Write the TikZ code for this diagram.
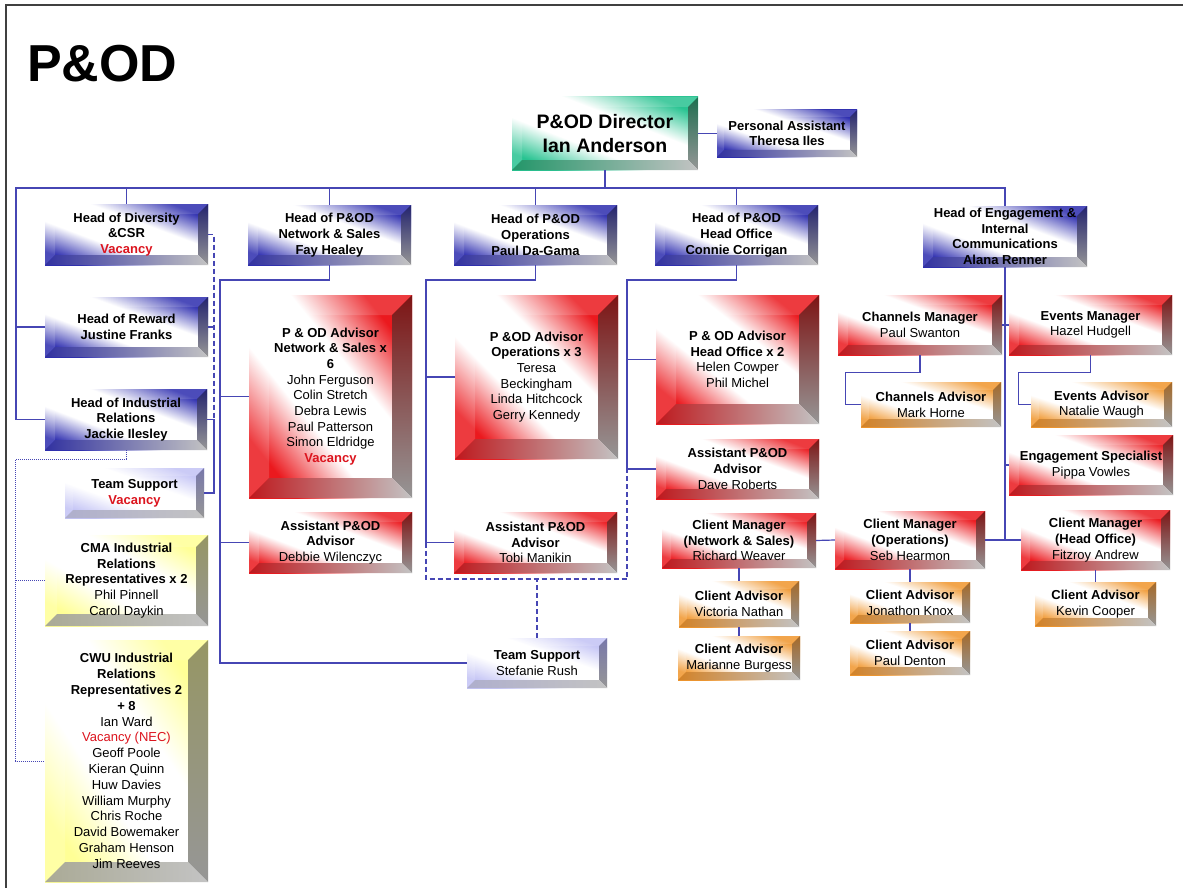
\documentclass[tikz,border=0pt]{standalone}
\usepackage{fontspec}
\setmainfont{Liberation Sans}
\usetikzlibrary{calc}
\definecolor{blueF}{RGB}{45,45,175}
\definecolor{bluedk}{RGB}{35,35,110}
\definecolor{bluebb}{RGB}{50,50,160}
\definecolor{redF}{RGB}{235,25,30}
\definecolor{reddk}{RGB}{125,20,20}
\definecolor{redbb}{RGB}{190,25,30}
\definecolor{greenF}{RGB}{40,195,145}
\definecolor{greendk}{RGB}{30,110,80}
\definecolor{greenbb}{RGB}{35,150,105}
\definecolor{orangeF}{RGB}{240,150,45}
\definecolor{orangedk}{RGB}{165,105,40}
\definecolor{orangebb}{RGB}{210,130,40}
\definecolor{yellowF}{RGB}{255,255,150}
\definecolor{yellowdk}{RGB}{150,150,100}
\definecolor{yellowbb}{RGB}{170,170,150}
\definecolor{lavF}{RGB}{195,195,245}
\definecolor{lavdk}{RGB}{120,120,170}
\definecolor{lavbb}{RGB}{175,175,205}
\definecolor{bevgray}{RGB}{150,150,150}
\definecolor{bevgray2}{RGB}{195,195,195}
\definecolor{vacred}{RGB}{220,20,30}
\definecolor{connblue}{RGB}{70,70,180}
\newcommand\declface[2]{\pgfdeclarehorizontalshading{face#1}{100bp}{color(0bp)=(#2); color(25bp)=(#2); color(41bp)=(white); color(59bp)=(white); color(75bp)=(#2); color(100bp)=(#2)}}
\declface{blue}{blueF}
\declface{red}{redF}
\declface{green}{greenF}
\declface{orange}{orangeF}
\declface{yellow}{yellowF}
\declface{lav}{lavF}
\newcommand\pname[1]{{\mdseries #1}}
\newcommand\vacant[1]{{\color{vacred}#1}}
\newcommand\orgbox[9][]{%
  \pgfmathsetmacro\bw{#4-#2}%
  \pgfmathsetmacro\bh{#5-#3}%
  \pgfmathsetmacro\ang{atan2(\bw,\bh)}%
  \shade[shading=face#8, shading angle=\ang] (#2,#3) rectangle (#4,#5);
  \fill[white, opacity=.15] (#2,#3) -- (#4,#3) -- ({#4-#6},{#3+#6}) -- ({#2+#6},{#3+#6}) -- ({#2+#6},{#5-#6}) -- (#2,#5) -- cycle;
  \shade[top color=#8dk, bottom color=bevgray] ({#4-#6},{#3+#6}) -- (#4,#3) -- (#4,#5) -- ({#4-#6},{#5-#6}) -- cycle;
  \shade[left color=#8bb, right color=bevgray2] (#2,#5) -- ({#2+#6},{#5-#6}) -- ({#4-#6},{#5-#6}) -- (#4,#5) -- cycle;
  \node[boxtext, minimum width=\bw pt, minimum height=\bh pt, #1] (#7) at ({(#2+#4)/2},{(#3+#5)/2}) {#9};
}
\tikzset{
  boxtext/.style={inner sep=0pt, align=center, text=black, font=\fontsize{13}{15.7}\selectfont\bfseries},
  conn/.style={draw=connblue, line width=1.2pt},
  dashconn/.style={draw=connblue, line width=1.2pt, dash pattern=on 5pt off 3pt},
  dotconn/.style={draw=connblue, line width=1pt, dash pattern=on 1pt off 1pt},
}
\begin{document}
\begin{tikzpicture}[x=1pt,y=-1pt]
\useasboundingbox (0,0) rectangle (1183,888);
\fill[white] (0,0) rectangle (1183,888);
\draw[line width=2pt, draw=black!75] (6,888) -- (6,5) -- (1183,5);
\node[anchor=base west, inner sep=0pt, font=\fontsize{52}{52}\selectfont\bfseries] (title) at (27,82) {P\&OD};

\coordinate (busl) at (16,188);
\coordinate (nsx) at (220,280);
\coordinate (opsx) at (426,280);
\coordinate (hox) at (627,280);
\coordinate (dx) at (214,234.5);

% ---- boxes
\orgbox[font=\fontsize{19.5}{24.5}\selectfont\bfseries]{512}{97}{698}{170}{10}{director}{green}{P\&OD Director\\Ian Anderson}
\orgbox{717}{110}{857}{157}{7}{pa}{blue}{Personal Assistant\\Theresa Iles}
\orgbox{45}{204}{208}{265}{10}{div}{blue}{Head of Diversity\\\&CSR\\\vacant{Vacancy}}
\orgbox{248}{205}{411}{265}{10}{ns}{blue}{Head of P\&OD\\Network \& Sales\\Fay Healey}
\orgbox{454}{205}{617}{265}{10}{ops}{blue}{Head of P\&OD\\Operations\\Paul Da-Gama}
\orgbox{655}{205}{818}{265}{10}{ho}{blue}{Head of P\&OD\\Head Office\\Connie Corrigan}
\orgbox[font=\fontsize{13}{15.5}\selectfont\bfseries]{923}{206}{1087}{267}{10}{eng}{blue}{Head of Engagement \&\\Internal\\Communications\\Alana Renner}
\orgbox{45}{297}{208}{357}{10}{rew}{blue}{Head of Reward\\Justine Franks}
\orgbox{45}{389}{207}{450}{10}{ind}{blue}{Head of Industrial\\Relations\\Jackie Ilesley}
\orgbox{65}{468}{204}{518}{8}{tsv}{lav}{Team Support\\\vacant{Vacancy}}
\orgbox{45}{535}{208}{626}{12}{cma}{yellow}{CMA Industrial\\Relations\\Representatives x 2\\\pname{Phil Pinnell}\\\pname{Carol Daykin}}
\orgbox[font=\fontsize{13}{15.8}\selectfont\bfseries]{45}{640}{208}{882}{20}{cwu}{yellow}{CWU Industrial\\Relations\\Representatives 2\\+ 8\\\pname{Ian Ward}\\\pname{\vacant{Vacancy (NEC)}}\\\pname{Geoff Poole}\\\pname{Kieran Quinn}\\\pname{Huw Davies}\\\pname{William Murphy}\\\pname{Chris Roche}\\\pname{David Bowemaker}\\\pname{Graham Henson}\\\pname{Jim Reeves}}
\orgbox{249}{295}{412}{498}{20}{nsadv}{red}{P \& OD Advisor\\Network \& Sales x\\6\\\pname{John Ferguson}\\\pname{Colin Stretch}\\\pname{Debra Lewis}\\\pname{Paul Patterson}\\\pname{Simon Eldridge}\\\vacant{Vacancy}}
\orgbox{249}{512}{412}{573}{10}{nsasst}{red}{Assistant P\&OD\\Advisor\\\pname{Debbie Wilenczyc}}
\orgbox{455}{295}{618}{459}{20}{opsadv}{red}{P \&OD Advisor\\Operations x 3\\\pname{Teresa}\\\pname{Beckingham}\\\pname{Linda Hitchcock}\\\pname{Gerry Kennedy}}
\orgbox{454}{512}{617}{573}{10}{opsasst}{red}{Assistant P\&OD\\Advisor\\\pname{Tobi Manikin}}
\orgbox{467}{638}{607}{688}{8}{tss}{lav}{Team Support\\\pname{Stefanie Rush}}
\orgbox{656}{295}{819}{424}{20}{hoadv}{red}{P \& OD Advisor\\Head Office x 2\\\pname{Helen Cowper}\\\pname{Phil Michel}}
\orgbox{656}{439}{819}{499}{10}{dave}{red}{Assistant P\&OD\\Advisor\\\pname{Dave Roberts}}
\orgbox{662}{513}{816}{568}{9}{cmns}{red}{Client Manager\\(Network \& Sales)\\\pname{Richard Weaver}}
\orgbox{835}{511}{985}{569}{9}{cmops}{red}{Client Manager\\(Operations)\\\pname{Seb Hearmon}}
\orgbox{1021}{510}{1170}{570}{9}{cmho}{red}{Client Manager\\(Head Office)\\\pname{Fitzroy Andrew}}
\orgbox{679}{581}{799}{627}{8}{cav}{orange}{Client Advisor\\\pname{Victoria Nathan}}
\orgbox{678}{636}{800}{680}{8}{cam}{orange}{Client Advisor\\\pname{Marianne Burgess}}
\orgbox{850}{582}{970}{623}{8}{caj}{orange}{Client Advisor\\\pname{Jonathon Knox}}
\orgbox{850}{631}{970}{675}{8}{cap}{orange}{Client Advisor\\\pname{Paul Denton}}
\orgbox{1035}{582}{1156}{626}{8}{cak}{orange}{Client Advisor\\\pname{Kevin Cooper}}
\orgbox{838}{295}{1002}{355}{10}{chm}{red}{Channels Manager\\\pname{Paul Swanton}}
\orgbox{1009}{295}{1172}{355}{10}{evm}{red}{Events Manager\\\pname{Hazel Hudgell}}
\orgbox{861}{382}{1001}{427}{8}{cha}{orange}{Channels Advisor\\\pname{Mark Horne}}
\orgbox{1031}{382}{1172}{427}{8}{eva}{orange}{Events Advisor\\\pname{Natalie Waugh}}
\orgbox{1009}{435}{1173}{495}{10}{engs}{red}{Engagement Specialist\\\pname{Pippa Vowles}}

% ---- connectors
\draw[conn] (director.east) -- (pa.west);
\draw[conn] (director.south) -- (director.south |- busl);
\draw[conn] (ind.west) -| (busl) -| (eng.north);
\draw[conn] (rew.west) -- (rew.west -| busl);
\draw[conn] (div.north) -- (div.north |- busl);
\draw[conn] (ns.north) -- (ns.north |- busl);
\draw[conn] (ops.north) -- (ops.north |- busl);
\draw[conn] (ho.north) -- (ho.north |- busl);
\draw[dashconn] (div.east) -- (dx) -- (dx |- ind.east);
\draw[dashconn] (rew.east) -- (rew.east -| dx);
\draw[conn] (ind.east) -- (ind.east -| dx) |- (tsv.east);
\draw[dotconn] (ind.south) -- ++(0,9) -| ($(cwu.west)+(-29,0)$) -- (cwu.west);
\draw[dotconn] (cma.west) -- ++(-29,0);
\draw[conn] (ns.south) |- (nsx) |- (tss.west);
\draw[conn] (nsadv.west) -- (nsadv.west -| nsx);
\draw[conn] (nsasst.west) -- (nsasst.west -| nsx);
\draw[conn] (ops.south) |- (opsx) |- (opsasst.west);
\draw[conn] (opsadv.west) -- (opsadv.west -| opsx);
\draw[conn] (ho.south) |- (hox) |- (dave.west);
\draw[conn] (hoadv.west) -- (hoadv.west -| hox);
\draw[dashconn] (opsasst.west -| opsx) -- ($(opsasst.west -| opsx)+(0,36.5)$) -| (dave.west -| hox);
\draw[dashconn] (tss.north) -- ++(0,-59);
\draw[conn] (eng.south) |- (cmops.east);
\draw[conn] (cmns.east) -- (cmops.west);
\draw[conn] (cmho.west) -- (cmho.west -| eng.south);
\draw[conn] (evm.west) -- (evm.west -| eng.south);
\draw[conn] (chm.east) -- (chm.east -| eng.south);
\draw[conn] (engs.west) -- (engs.west -| eng.south);
\draw[conn] (chm.south) -- ++(0,17) -| ($(cha.west)+(-15,0)$) -- (cha.west);
\draw[conn] (evm.south) -- ++(0,17) -| ($(eva.west)+(-12,0)$) -- (eva.west);
\draw[conn] (cmns.south) -- (cav.north);
\draw[conn] (cav.south) -- (cam.north);
\draw[conn] (cmops.south) -- (caj.north);
\draw[conn] (caj.south) -- (cap.north);
\draw[conn] (cmho.south) -- (cak.north);
\end{tikzpicture}
\end{document}
